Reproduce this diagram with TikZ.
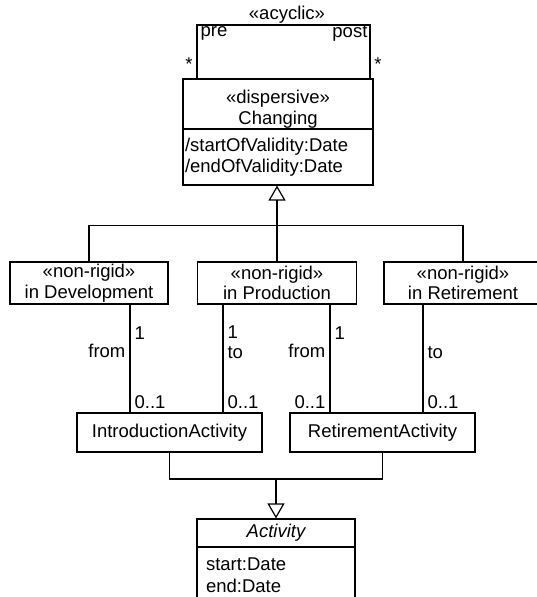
\documentclass[tikz,border=0pt]{standalone}
\usepackage{fontspec}
\setmainfont{Liberation Sans}
\usetikzlibrary{arrows.meta}
\begin{document}
\begin{tikzpicture}[x=1pt,y=-1pt, line width=1.2pt,
  every node/.style={font=\fontsize{18.5}{20.5}\selectfont},
  box/.style={draw, rectangle, inner sep=0pt, align=center},
  attrbox/.style={draw, rectangle, inner ysep=0pt, align=left},
  lbl/.style={inner sep=0pt},
  gen/.style={-{Triangle[open,length=15pt,width=17pt]}}]
\useasboundingbox (0,0) rectangle (536,597);

% Changing
\node[box, minimum width=190pt, minimum height=50pt] (chgHead) at (278,104) {};
\node[lbl, align=center] (chgName) at (278,109) {«dispersive»\\Changing};
\node[attrbox, inner xsep=2pt, text width=186pt, minimum height=56pt] (chgAttr) at (278,157) {/startOfValidity:Date\\/endOfValidity:Date};

% self loop
\coordinate (lp1) at (197,25);
\coordinate (lp2) at (370,25);
\draw (chgHead.north -| lp1) -- (lp1) -- (lp2) -- (chgHead.north -| lp2);
\node[lbl] (acyc) at (287,15) {«acyclic»};
\node[lbl, anchor=west] (pre) at (200,33) {pre};
\node[lbl, anchor=east] (post) at (368,33) {post};
\node[lbl] (st1) at (189,64) {*};
\node[lbl] (st2) at (378,64) {*};

% non-rigid boxes
\node[box, minimum width=158pt, minimum height=42pt] (nr1) at (89,283) {«non-rigid»\\in Development};
\node[box, minimum width=159pt, minimum height=42pt] (nr2) at (277,283) {«non-rigid»\\in Production};
\node[box, minimum width=158pt, minimum height=42pt] (nr3) at (463,283) {«non-rigid»\\in Retirement};

% generalization
\draw (nr1.north) -- ++(0,-36) -| (nr3.north);
\draw[gen] (nr2.north) -- (nr2.north |- chgAttr.south);

% activities
\node[box, minimum width=185pt, minimum height=39pt] (intro) at (169.5,432.5) {IntroductionActivity};
\node[box, minimum width=185pt, minimum height=39pt] (retire) at (382.5,432.5) {RetirementActivity};

% associations
\coordinate (x1) at (130,0);
\coordinate (x2) at (223,0);
\coordinate (x3) at (330,0);
\coordinate (x4) at (423,0);
\draw (nr1.south -| x1) -- (intro.north -| x1);
\draw (nr2.south -| x2) -- (intro.north -| x2);
\draw (nr2.south -| x3) -- (retire.north -| x3);
\draw (nr3.south -| x4) -- (retire.north -| x4);

\node[lbl, anchor=west] (m1a) at (134,333) {1};
\node[lbl, anchor=east] (r1) at (126,351) {from};
\node[lbl, anchor=west] (m1b) at (134,402) {0..1};

\node[lbl, anchor=west] (m2a) at (227,332) {1};
\node[lbl, anchor=west] (r2) at (227,353) {to};
\node[lbl, anchor=west] (m2b) at (227,402) {0..1};

\node[lbl, anchor=west] (m3a) at (334,333) {1};
\node[lbl, anchor=east] (r3) at (326,351) {from};
\node[lbl, anchor=east] (m3b) at (326,402) {0..1};

\node[lbl, anchor=west] (r4) at (427,353) {to};
\node[lbl, anchor=west] (m4b) at (427,402) {0..1};

% Activity
\node[box, minimum width=158pt, minimum height=28pt] (actHead) at (276,533) {\itshape Activity};
\node[attrbox, inner xsep=9pt, text width=140pt, minimum height=56pt, font=\fontsize{18.5}{22.5}\selectfont] (actAttr) at (276,575) {start:Date\\end:Date};

\coordinate (bus) at (276,479);
\draw (intro.south) |- (bus) -| (retire.south);
\draw[gen] (bus) -- (actHead.north);
\end{tikzpicture}
\end{document}
